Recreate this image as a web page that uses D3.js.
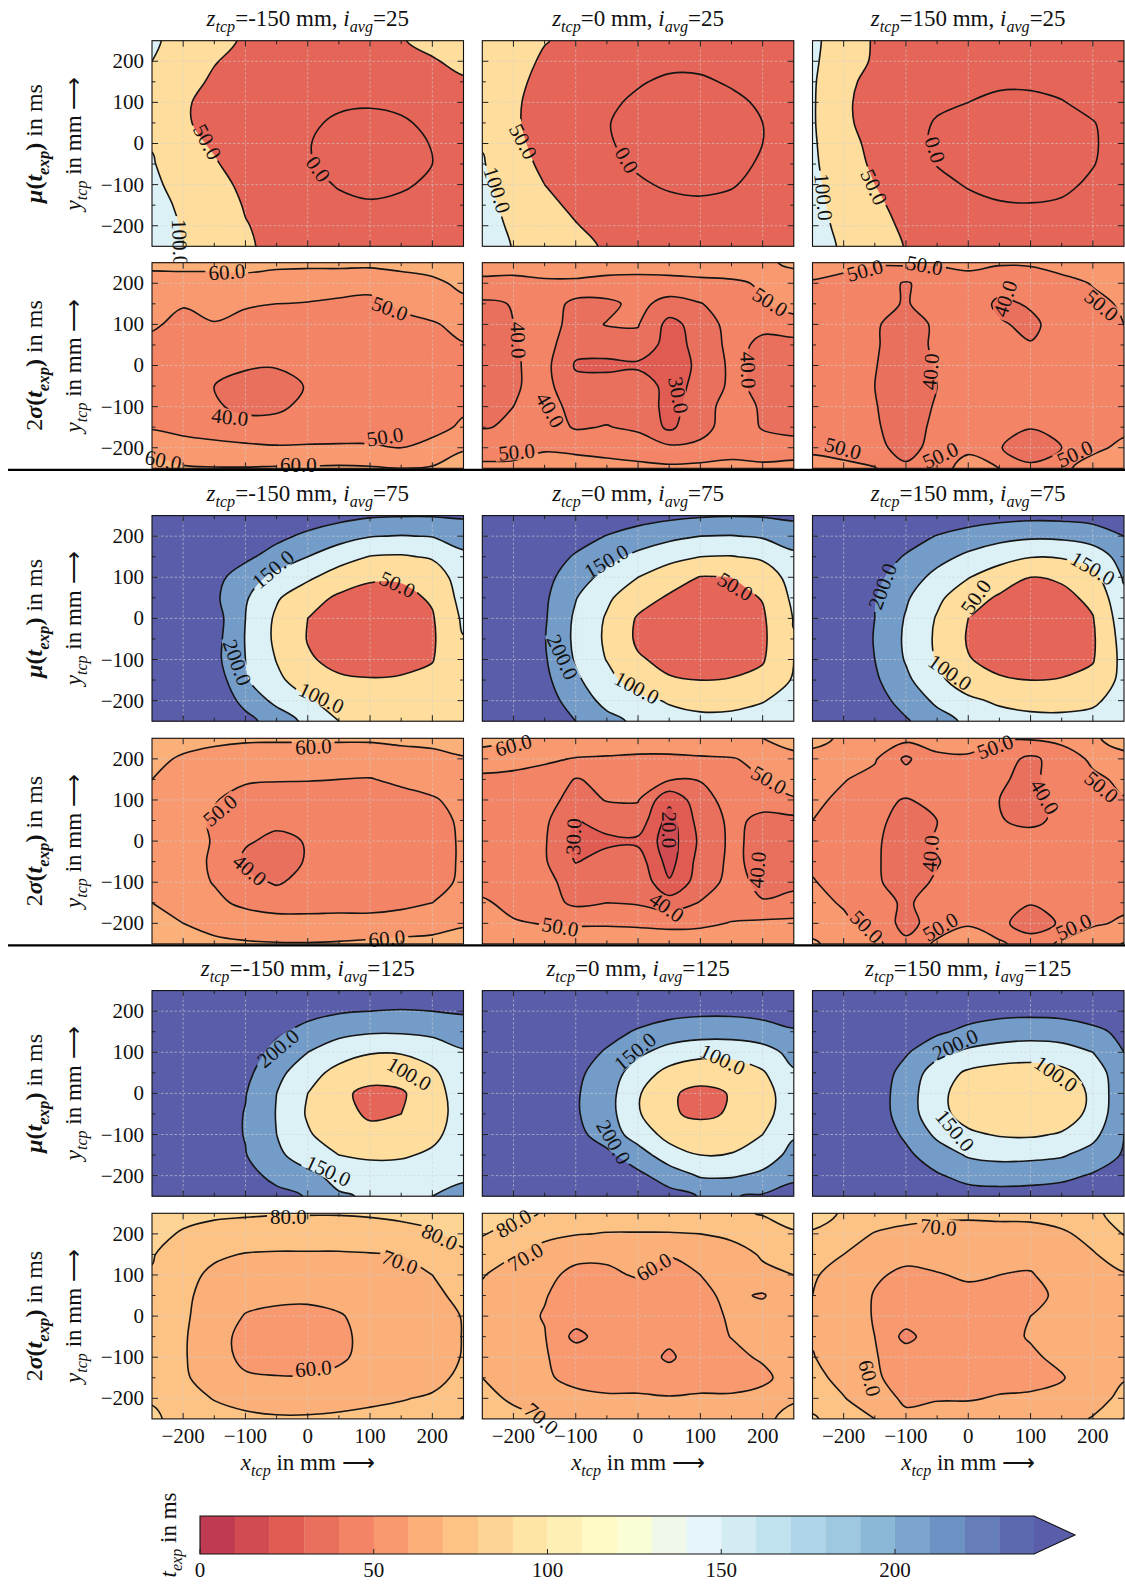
<!DOCTYPE html>
<html><head><meta charset="utf-8">
<script src="https://cdn.jsdelivr.net/npm/d3@7"></script>
<style>
body{margin:0;background:#fff}
svg{display:block}
text{font-family:"Liberation Serif","Times New Roman",serif;fill:#111}
</style>
</head><body>
<svg id="c" width="1125" height="1585"></svg>
<script>
// ---------------- DATA ----------------
const xGrid = [-250,-200,-150,-100,-50,0,50,100,150,200,250];
const yGrid = [250,200,150,100,50,0,-50,-100,-150,-200,-250];
const zLabels = ["-150","0","150"];
const iavgValues = [25,75,125];
const muLevels = [-50,0,50,100,150,200];
const sigmaLevels = [10,20,30,40,50,60,70,80,90];
const tickValues = [-200,-100,0,100,200];
const cbTicks = [0,50,100,150,200];
const cbLevels = [0,10,20,30,40,50,60,70,80,90,100,110,120,130,140,150,160,170,180,190,200,210,220,230,240];

// mu(t_exp), i_avg = 25
const mu_25_m150 = [
[106,86,66,44,36,32,33,37,48,60,68],
[100,78,52,38,28,22,21,24,33,47,59],
[94,64,44,30,20,13,11,13,20,32,46],
[88,54,40,26,15,7,3,2,5,14,28],
[90,54,40,24,12,3,-3,-5,-3,5,18],
[97,60,46,28,12,1,-7,-10,-7,1,13],
[104,70,53,36,17,2,-7,-10,-8,0,12],
[110,82,62,42,24,8,-2,-5,-3,4,15],
[114,93,72,47,30,15,6,2,5,10,20],
[120,97,80,52,38,25,16,12,14,18,26],
[122,99.5,84,55,40,32,25,20,22,26,32]];
const mu_25_0 = [
[95,72,52,40,30,24,22,24,30,38,45],
[93,66,44,30,18,10,6,7,12,20,30],
[92,60,38,22,10,2,-4,-4,3,10,20],
[92,56,34,18,4,-4,-9,-10,-6,4,14],
[93,56,32,16,1,-7,-12,-13,-10,0,10],
[97,60,36,18,2,-6,-12,-13,-10,0,10],
[104,66,42,24,6,-3,-9,-10,-7,3,14],
[110,74,50,32,14,3,-3,-5,-2,8,20],
[116,84,60,42,25,13,6,4,7,15,26],
[120,92,70,52,36,24,16,13,16,22,32],
[124,98,78,60,46,34,26,22,24,30,38]];
const mu_25_150 = [
[108,80,45,34,28,24,22,23,28,36,44],
[107,74,44,30,20,14,11,11,14,21,30],
[106,58,40,24,12,6,3,3,6,13,22],
[105,55,38,20,6,0,-4,-4,-1,6,16],
[105,56,38,14,-3,-10,-14,-15,-11,-1,10],
[106,66,38,12,-5,-12,-16,-17,-13,-2,9],
[108,70,43,18,-1,-9,-14,-15,-11,-1,11],
[111,76,50,26,7,-2,-7,-8,-5,4,16],
[114,82,58,36,18,7,2,1,3,11,22],
[117,88,62,44,30,18,12,10,13,20,30],
[120,94,72,48,38,28,22,20,22,28,36]];
// 2 sigma(t_exp), i_avg = 25
const sig_25_m150 = [
[62,63,63,63,62,62,62,62,63,64,66],
[57,56,56,57,56,55,55,54,56,58,62],
[55,50.5,53,51,50,49.5,48,47,52,55,58],
[51,48,49.5,47,46,46,45,45,47,49,53],
[48,46,45,44,43,43,43,43,44,46,49.5],
[47,45,43,41,40.5,41,42,43,44,45,48],
[46,44,40,37,37,40.5,42,43,44,45,48],
[47,45,41,38,38.5,42,43,44,45,46,49],
[49,47,45,43,43,45,46,46,47,48,51],
[58,54,53,52,51,51,51,51,50,52,59],
[63,61,60.5,60.5,61,61,61.5,61,60,61,65]];
const sig_25_0 = [
[54,54,55,55,54,54,54,55,56,58,62],
[48,47.5,48.5,48.5,47.5,47,47.5,48,48.5,51,55],
[38,40.5,46,37,37.5,43,36,39.5,45,49.5,53],
[37,40,45,36,40.5,40.5,27,34,44,42,47],
[36,39,44,33,34,37,26,33,43,38,36],
[36,39,43,29,28,28,25,32,42,38,35],
[36,39,43,33,34,37,26,33,42,38,35],
[37,40,44,37,36,38,26,36,44,39,36],
[39.5,41,45,39,40.5,38,28,37,44,39.5,37],
[46,45,49,48,47,46,42,42,46,43,44],
[52,53,54,54,53,52,52,53,53,53,54]];
const sig_25_150 = [
[55,53,51,52,51,52,51,52,54,56,58],
[49,47,45,39,45,47,44,41,47,50.5,53],
[47,45,42,39.5,43,46,38,41,45,48,51],
[46,44,41,36,41.5,45,41,38,44,47,50],
[46,44,41,35,42,45,43,40.5,44,47,49],
[46,44,40.5,34,41,44,45,45,46,47,49],
[46,44,40,33,40,44,45,45,46,47,49],
[46,44,40.5,35,41,44,45,44,45,47,49],
[47,45,41,36,42,45,43,40.5,43,47,49],
[49,47,43,36,44,49.5,40.5,35,40,49,51],
[52,52,50.5,42,49,51,50,42,49,52,54]];
// mu(t_exp), i_avg = 75
const mu_75_m150 = [
[280,270,262,252,240,228,216,206,203,203,206],
[275,262,250,232,212,190,170,152,148,152,170],
[270,255,238,210,180,150,120,98,95,105,140],
[266,250,215,175,135,108,78,55,55,72,125],
[264,246,210,155,105,70,42,36,38,55,118],
[262,245,222,150,92,50,36,32,34,46,108],
[260,243,218,148,90,48,34,30,32,44,98],
[258,242,215,150,98,55,38,36,38,48,90],
[255,240,230,155,110,75,56,52,54,60,85],
[250,238,225,190,135,105,80,68,68,74,85],
[245,235,225,210,185,135,100,80,74,78,88]];
const mu_75_0 = [
[280,268,258,246,234,222,212,205,202,204,210],
[274,258,240,220,198,178,162,150,148,155,172],
[268,250,225,195,165,138,115,100,98,108,140],
[264,242,215,172,135,100,72,48,50,70,120],
[260,236,208,152,108,70,44,34,36,52,110],
[258,232,205,142,95,45,36,30,32,44,102],
[256,230,202,140,92,42,33,28,30,42,98],
[254,230,205,145,98,55,38,34,36,46,100],
[252,235,212,158,118,72,54,50,52,62,105],
[250,238,222,178,135,115,95,88,90,98,115],
[250,240,232,200,165,140,120,110,110,118,128]];
const mu_75_150 = [
[285,272,260,248,236,226,218,214,215,220,230],
[280,262,242,220,198,180,166,158,160,172,200],
[275,252,225,196,166,140,118,102,104,122,170],
[270,244,212,174,136,102,74,50,56,84,155],
[266,238,202,156,110,70,44,34,38,60,140],
[264,234,200,146,96,50,35,30,33,48,128],
[262,232,198,142,92,46,32,28,31,44,120],
[260,232,200,146,96,52,38,33,36,47,115],
[258,236,208,160,112,72,54,50,52,62,115],
[256,240,220,182,140,110,92,84,84,92,120],
[254,244,230,205,170,140,122,114,112,115,128]];
// 2 sigma(t_exp), i_avg = 75
const sig_75_m150 = [
[64,63,62,61,61,61,61,61,62,62.5,63],
[62,59,57,56.5,56,56,56,56,56.5,57.5,59.5],
[60,56,53,51,50.5,50.5,50,49.5,52,54,56],
[58,54,50.5,47,46,45,45,45,46.5,49,53],
[57,53,49,45,42,42,43,44,45,47,51.5],
[57,53,49.5,41,38,40.5,43,44,45,47,51],
[57,53,49,38,35,41,43,44,45,47,51],
[58,54,49.5,43,39,43,44,45,46,48,51],
[60,56,52,48,45.5,46,47,47,48,50,52],
[63,60,57,55,54,53.5,53,53,54,55.5,59],
[66,64,62,61,60.5,60.5,61,62,63,63.5,64]];
const sig_75_0 = [
[63,61,59,57,56,55,55,56,57.5,60,63],
[56,54,51.5,49.5,49,48.5,48.5,49,49.5,52,58],
[47.5,47,46,39.5,42,46,41,40.5,45,50,55],
[46,45,44,36,40.5,40.5,22,36,44,43,49],
[45,44,42,29.5,34,36,16,34,42,38,37],
[45,44,41,27,28,28,15,32,42,37,36],
[45,44,41,29.5,34,35,16,34,42,37,36],
[46,45,42,37,38,38,21,35,43,38,37],
[51.5,47,44,38,40,39,35,40.5,45,40.5,44],
[56,51,49.5,49,49,48.5,47.5,48,50.5,52,52],
[60,58,57,56,56,56,56,56.5,57,58,60]];
const sig_75_150 = [
[62,59,56,53,52,51.5,51,51,53,59,63],
[58,54,51,38,49,49.5,44,38,44,52,58],
[55,50.5,47,45,46,47,41,38,44,48,52],
[52,48,42,39.5,42,46,40,37,42,46,49.5],
[50,47,42,37,40,45,40.5,38,42,46,48],
[48,46,41.5,35,41,44,45,44,45,46,47],
[48.5,46,41,36,39.5,44,45,45,45.5,46,47],
[50.5,47,41,37,41,45,45,45,45,46,47.5],
[53,49,42.5,39,43,46,43,40.5,43,47,48.5],
[57,52,46,37,44,49.5,42,36,41,49,51],
[61,57,53,42,52,53,52,44,52,55,60.5]];
// mu(t_exp), i_avg = 125
const mu_125_m150 = [
[300,290,280,268,255,245,235,228,222,220,222],
[295,282,268,255,232,215,205,200,198,200,205],
[290,275,255,240,208,185,165,155,155,162,175],
[285,268,245,225,185,150,120,103,103,118,145],
[282,262,235,212,165,118,85,70,72,92,130],
[280,258,228,202,150,100,60,38,44,80,125],
[278,255,224,198,148,95,64,44,50,78,122],
[275,252,222,198,150,105,75,62,65,88,125],
[272,250,222,202,160,125,100,92,94,108,132],
[270,250,232,212,190,162,135,125,125,132,145],
[268,250,235,220,210,198,155,145,145,150,160]];
const mu_125_0 = [
[300,290,280,268,256,245,238,232,230,232,238],
[296,284,270,254,238,224,214,210,210,215,225],
[292,276,258,238,216,195,180,172,172,180,195],
[288,270,248,222,195,160,130,115,115,130,165],
[285,265,240,210,178,125,85,68,70,95,145],
[284,262,236,205,170,105,55,40,52,80,130],
[283,262,236,205,170,105,55,42,54,82,132],
[283,264,240,212,180,125,85,72,75,100,145],
[284,268,246,222,210,175,120,100,103,125,165],
[286,272,254,238,228,210,180,145,145,160,190],
[288,276,262,250,240,230,215,198,198,205,220]];
const mu_125_150 = [
[300,290,280,270,260,252,246,244,245,250,258],
[295,282,268,252,236,222,214,212,214,222,235],
[290,274,255,232,208,188,176,172,176,190,210],
[286,266,240,205,165,140,128,122,128,150,200],
[282,260,230,182,125,92,80,78,88,118,190],
[280,256,225,175,112,80,68,62,72,108,190],
[280,256,226,176,115,82,70,66,76,112,192],
[280,258,230,192,140,108,96,94,104,135,200],
[282,262,240,210,175,145,136,138,145,170,205],
[284,268,250,228,205,185,180,182,188,205,230],
[286,274,260,245,230,220,218,220,225,235,250]];
// 2 sigma(t_exp), i_avg = 125
const sig_125_m150 = [
[82,81.5,81,81,80.5,80.5,80.5,81,82,83,84],
[81.5,79.5,78,76,75.5,75.5,75.5,76,77,79,82],
[80.5,76,71.5,69.5,69,69,69,69.5,70,73,79],
[79.5,73,68,66,65,65,65,65.5,67,70,76],
[78,72,66,63,62,61.5,62,63,64.5,67.5,73],
[78,71.5,65,59.5,58,58,59.5,62,63.5,66,70.5],
[78,71,64,57,55.5,56,58.5,62,63.5,66,70.3],
[78,71,63.5,58,56,56.5,59,62,63.5,66,70.5],
[78.5,71.5,65,61,60.5,60.5,61.5,63.5,65,67.5,72],
[79.5,74,69.5,67,66,66,67,68.5,69.5,71,76],
[81,78,74,72,71,71,71.5,72,73,75,80.5]];
const sig_125_0 = [
[84,82,79.5,77,76,75.5,76,77,78.5,80.5,82],
[80.5,77,72.5,70.5,69.5,69.5,69.5,70,72,76,79.5],
[76,70.5,66,62,61,63,60.5,63,66,71,75],
[70.5,66,62,58,59,60.5,57,60,64,68,70],
[68,64,60.5,56,56,57,56,58,62,59,68.5],
[67,63,59.5,55,55,56,55,57,61,65,68],
[67,63,60.5,47,55,56,53,57,60.2,64,68],
[67,63,60.5,57,56,56,48,57,58,61,66],
[70,64.5,61,58,57,57,56,57,57,58,64],
[73,68.5,65,62,61,61,60.5,61,61,63,69],
[76,73,70.5,68,67,66.5,66,66.5,67,68,73]];
const sig_125_150 = [
[82,79.5,75,72,71,70.5,71,71.5,73,79,82],
[79.5,74,69.5,68.5,68.5,69,68.5,68,69,72,80.5],
[75,70,65,62,63,65,64,62,65,69.5,73],
[71,66.5,61,58.5,59.5,61,60,59.5,63,67,69.5],
[70,65,59.5,56,57,58,57.5,58,61.5,65,68],
[69,64,59.5,55,56,57,58,60,63,66,68],
[69,64,60,47,56,57,58,60.5,63,66,68],
[70.5,65,60.5,56,56,57,58,59,61.5,66,69],
[73,67,61,57,57.5,58,58,58,59.5,64,69.5],
[77,70.5,64,58.5,59.5,59.5,60.5,61,62,67,72],
[81,76,70,62,63,63.5,64,65,67,70.5,80.5]];

// contour labels: [x, y, angle, text]
const lab_mu_25_m150 = [[-161,4,62,"50.0"],[17,-62,55,"0.0"],[-205,-241,88,"100.0"]];
const lab_mu_25_0 = [[-184,5,62,"50.0"],[-18,-40,60,"0.0"],[-226,-113,72,"100.0"]];
const lab_mu_25_150 = [[-53,-15,72,"0.0"],[-151,-106,65,"50.0"],[-232,-130,85,"100.0"]];
const lab_sig_25_m150 = [[-130,228,-4,"60.0"],[132,139,20,"50.0"],[-125,-125,6,"40.0"],[124,-173,-8,"50.0"],[-232,-230,12,"60.0"],[-15,-242,0,"60.0"]];
const lab_sig_25_0 = [[212,155,32,"50.0"],[-192,62,88,"40.0"],[-141,-108,60,"40.0"],[65,-72,80,"30.0"],[177,-11,88,"40.0"],[-195,-210,-5,"50.0"]];
const lab_sig_25_150 = [[-166,232,-15,"50.0"],[-70,244,10,"50.0"],[214,147,40,"50.0"],[59,163,-72,"40.0"],[-61,-15,-85,"40.0"],[-201,-201,15,"50.0"],[-45,-218,-25,"50.0"],[171,-214,-25,"50.0"]];
const lab_mu_75_m150 = [[144,83,25,"50.0"],[-56,120,-40,"150.0"],[-113,-107,70,"200.0"],[22,-193,25,"100.0"]];
const lab_mu_75_0 = [[-51,139,-30,"150.0"],[156,78,30,"50.0"],[-121,-94,65,"200.0"],[-2,-168,28,"100.0"]];
const lab_mu_75_150 = [[-138,78,-70,"200.0"],[12,53,-55,"50.0"],[200,122,30,"150.0"],[-29,-131,35,"100.0"]];
const lab_sig_75_m150 = [[9,230,-3,"60.0"],[-141,75,-40,"50.0"],[-93,-70,40,"40.0"],[127,-236,-5,"60.0"]];
const lab_sig_75_0 = [[-200,234,-15,"60.0"],[210,149,30,"50.0"],[-104,11,-88,"30.0"],[51,27,90,"20.0"],[46,-160,35,"40.0"],[191,-70,-85,"40.0"],[-125,-208,10,"50.0"]];
const lab_sig_75_150 = [[43,230,-20,"50.0"],[214,132,40,"50.0"],[123,108,60,"40.0"],[-61,-30,-85,"40.0"],[-163,-208,45,"50.0"],[-45,-208,-30,"50.0"],[169,-208,-25,"50.0"]];
const lab_mu_125_m150 = [[-48,110,-40,"200.0"],[163,48,30,"100.0"],[33,-188,25,"150.0"]];
const lab_mu_125_0 = [[-5,102,-40,"150.0"],[136,83,25,"100.0"],[-39,-118,60,"200.0"]];
const lab_mu_125_150 = [[-21,119,-25,"200.0"],[141,48,35,"100.0"],[-21,-90,50,"150.0"]];
const lab_sig_125_m150 = [[-31,242,0,"80.0"],[212,193,25,"80.0"],[148,132,20,"70.0"],[9,-127,-5,"60.0"]];
const lab_sig_125_0 = [[-200,226,-30,"80.0"],[-181,144,-30,"70.0"],[25,120,-30,"60.0"],[-155,-249,40,"70.0"]];
const lab_sig_125_150 = [[-48,217,5,"70.0"],[-158,-151,75,"60.0"]];

// ---------------- LAYOUT / STYLE ----------------
const W = 311.5, H = 205.6;
const lefts = [152, 482.3, 812.5];
const tops = [40.7, 262.7, 515.6, 738.3, 990.6, 1213.3];
const FS_TICK = 21, FS_LAB = 21, FS_TITLE = 23, FS_AX = 23, FS_Y = 24;

const rdylbu = ["#a50026","#d73027","#f46d43","#fdae61","#fee090","#ffffbf","#e0f3f8","#abd9e9","#74add1","#4575b4","#313695"];
const cmapScale = d3.scaleLinear().domain(d3.range(11).map(i => i/10)).range(rdylbu).interpolate(d3.interpolateRgb).clamp(true);
function cmap(p) { const c = d3.rgb(cmapScale(p)); return d3.rgb(c.r*0.8+51, c.g*0.8+51, c.b*0.8+51).formatHex(); }
const cbColor = k => cmap((k + 0.5) / 24);
const muColor = t => cmap(Math.min(1, 0.125 + 0.25 * Math.max(0, t) / 50));
const sigColor = t => cbColor(Math.max(0, t) / 10);

const rows = [
  {kind:"mu", data:[mu_25_m150, mu_25_0, mu_25_150], labs:[lab_mu_25_m150, lab_mu_25_0, lab_mu_25_150], iavg:iavgValues[0]},
  {kind:"sig", data:[sig_25_m150, sig_25_0, sig_25_150], labs:[lab_sig_25_m150, lab_sig_25_0, lab_sig_25_150]},
  {kind:"mu", data:[mu_75_m150, mu_75_0, mu_75_150], labs:[lab_mu_75_m150, lab_mu_75_0, lab_mu_75_150], iavg:iavgValues[1]},
  {kind:"sig", data:[sig_75_m150, sig_75_0, sig_75_150], labs:[lab_sig_75_m150, lab_sig_75_0, lab_sig_75_150]},
  {kind:"mu", data:[mu_125_m150, mu_125_0, mu_125_150], labs:[lab_mu_125_m150, lab_mu_125_0, lab_mu_125_150], iavg:iavgValues[2]},
  {kind:"sig", data:[sig_125_m150, sig_125_0, sig_125_150], labs:[lab_sig_125_m150, lab_sig_125_0, lab_sig_125_150]}
];

const svg = d3.select("#c");
const defs = svg.append("defs");

function rich(sel, parts, size) {
  let shifted = false;
  parts.forEach(p => {
    const ts = sel.append("tspan").text(p.t);
    if (p.i) ts.attr("font-style", "italic");
    if (p.b) ts.attr("font-weight", "bold");
    if (p.sub) {
      ts.attr("font-size", size * 0.7);
      if (!shifted) { ts.attr("dy", size * 0.28); shifted = true; }
    } else if (shifted) { ts.attr("dy", -size * 0.28); shifted = false; }
  });
}

const xs = d3.scaleLinear().domain([-250, 250]).range([0, W]);
const ys = d3.scaleLinear().domain([-250, 250]).range([H, 0]);

function drawPanel(r, c) {
  const row = rows[r];
  const grid = row.data[c];
  const labs = row.labs[c];
  const isMu = row.kind === "mu";
  const levels = isMu ? muLevels : sigmaLevels;
  const colorFor = isMu ? muColor : sigColor;
  const nx = xGrid.length, ny = yGrid.length;
  const g = svg.append("g").attr("transform", `translate(${lefts[c]},${tops[r]})`);
  const id = `p${r}${c}`;
  defs.append("clipPath").attr("id", "clip" + id).append("rect").attr("width", W).attr("height", H);

  // grid with its edge values repeated once, so band outlines close outside the frame
  const P = [];
  for (let j = -1; j <= ny; j++) for (let i = -1; i <= nx; i++) {
    const jj = Math.max(0, Math.min(ny - 1, j)), ii = Math.max(0, Math.min(nx - 1, i));
    P.push(grid[jj][ii]);
  }
  const step = xGrid[1] - xGrid[0];
  const cx = v => xs(xGrid[0] + step * (v - 1.5));
  const cy = v => ys(yGrid[0] - step * (v - 1.5));
  const line = d3.line().x(p => cx(p[0])).y(p => cy(p[1])).curve(d3.curveCatmullRomClosed.alpha(0.5));
  const contours = d3.contours().size([nx + 2, ny + 2]).thresholds(levels)(P);
  const pathOf = mp => mp.coordinates.map(poly => poly.map(ring => line(ring.slice(0, -1))).join("")).join("");

  const inner = g.append("g").attr("clip-path", `url(#clip${id})`);
  inner.append("rect").attr("width", W).attr("height", H).attr("fill", colorFor(levels[0] - 10));
  contours.forEach(mp => {
    if (!mp.coordinates.length) return;
    inner.append("path").attr("d", pathOf(mp)).attr("fill", colorFor(mp.value)).attr("fill-rule", "evenodd");
  });
  const gridG = inner.append("g");
  tickValues.forEach(v => {
    gridG.append("line").attr("x1", xs(v)).attr("x2", xs(v)).attr("y1", 0).attr("y2", H);
    gridG.append("line").attr("y1", ys(v)).attr("y2", ys(v)).attr("x1", 0).attr("x2", W);
  });
  gridG.selectAll("line").attr("stroke", "#d0d0d0").attr("stroke-opacity", 0.65).attr("stroke-width", 0.9).attr("stroke-dasharray", "2.5,2");

  const labG = g.append("g");
  const mask = defs.append("mask").attr("id", "mask" + id).attr("maskUnits", "userSpaceOnUse")
    .attr("x", -60).attr("y", -60).attr("width", W + 120).attr("height", H + 120);
  mask.append("rect").attr("x", -60).attr("y", -60).attr("width", W + 120).attr("height", H + 120).attr("fill", "#fff");
  labs.forEach(([lx, ly, ang, txt]) => {
    const t = labG.append("text")
      .attr("transform", `translate(${xs(lx)},${ys(ly)}) rotate(${ang})`)
      .attr("text-anchor", "middle").attr("dy", "0.35em")
      .attr("font-size", FS_LAB).text(txt);
    const len = t.node().getComputedTextLength();
    mask.append("rect").attr("transform", `translate(${xs(lx)},${ys(ly)}) rotate(${ang})`)
      .attr("x", -len / 2 - 3).attr("y", -8).attr("width", len + 6).attr("height", 16).attr("fill", "#000");
  });

  const lines = inner.append("g").attr("mask", `url(#mask${id})`);
  contours.forEach(mp => {
    if (!mp.coordinates.length || (isMu && mp.value === muLevels[0])) return;
    lines.append("path").attr("d", pathOf(mp)).attr("fill", "none").attr("stroke", "#151515").attr("stroke-width", 1.6);
  });
  labG.raise();

  const tk = g.append("g").attr("stroke", "#222").attr("stroke-width", 1);
  const minor = [-150, -50, 50, 150];
  const addTicks = (vals, len) => vals.forEach(v => {
    tk.append("line").attr("x1", xs(v)).attr("x2", xs(v)).attr("y1", H).attr("y2", H - len);
    tk.append("line").attr("x1", xs(v)).attr("x2", xs(v)).attr("y1", 0).attr("y2", len);
    tk.append("line").attr("y1", ys(v)).attr("y2", ys(v)).attr("x1", 0).attr("x2", len);
    tk.append("line").attr("y1", ys(v)).attr("y2", ys(v)).attr("x1", W).attr("x2", W - len);
  });
  addTicks(tickValues, 6);
  addTicks(minor, 3.5);
  g.append("rect").attr("width", W).attr("height", H).attr("fill", "none").attr("stroke", "#111").attr("stroke-width", 1.1);

  if (c === 0) {
    tickValues.forEach(v => {
      g.append("text").attr("x", -8).attr("y", ys(v) + 7).attr("text-anchor", "end").attr("font-size", FS_TICK)
        .text(v < 0 ? "\u2212" + Math.abs(v) : String(v));
    });
  }
  if (r === rows.length - 1) {
    tickValues.forEach(v => {
      g.append("text").attr("x", xs(v)).attr("y", H + 24).attr("text-anchor", "middle").attr("font-size", FS_TICK)
        .text(v < 0 ? "\u2212" + Math.abs(v) : String(v));
    });
    const xl = g.append("text").attr("x", W / 2).attr("y", H + 51).attr("text-anchor", "middle").attr("font-size", FS_AX);
    rich(xl, [{t:"x", i:true}, {t:"tcp", i:true, sub:true}, {t:" in mm \u27F6"}], FS_AX);
  }
  if (isMu) {
    const tt = g.append("text").attr("x", W / 2).attr("y", -15).attr("text-anchor", "middle").attr("font-size", FS_TITLE);
    rich(tt, [{t:"z", i:true}, {t:"tcp", i:true, sub:true}, {t:"=" + zLabels[c] + " mm, "}, {t:"i", i:true}, {t:"avg", i:true, sub:true}, {t:"=" + row.iavg}], FS_TITLE);
  }
}

for (let r = 0; r < rows.length; r++) for (let c = 0; c < 3; c++) drawPanel(r, c);

rows.forEach((row, r) => {
  const yc = tops[r] + H / 2;
  const t1 = svg.append("text").attr("transform", `translate(42,${yc}) rotate(-90)`).attr("text-anchor", "middle").attr("font-size", FS_Y);
  if (row.kind === "mu") {
    rich(t1, [{t:"\u03BC", b:true, i:true}, {t:"(", b:true}, {t:"t", b:true, i:true}, {t:"exp", b:true, i:true, sub:true}, {t:")", b:true}, {t:" in ms"}], FS_Y);
  } else {
    rich(t1, [{t:"2"}, {t:"\u03C3", b:true, i:true}, {t:"(", b:true}, {t:"t", b:true, i:true}, {t:"exp", b:true, i:true, sub:true}, {t:")", b:true}, {t:" in ms"}], FS_Y);
  }
  const t2 = svg.append("text").attr("transform", `translate(81,${yc}) rotate(-90)`).attr("text-anchor", "middle").attr("font-size", FS_AX);
  rich(t2, [{t:"y", i:true}, {t:"tcp", i:true, sub:true}, {t:" in mm \u27F6"}], FS_AX);
});

[1, 3].forEach(r => {
  svg.append("line").attr("x1", 8).attr("x2", 1125).attr("y1", tops[r] + H + 1.5).attr("y2", tops[r] + H + 1.5)
    .attr("stroke", "#000").attr("stroke-width", 2.2);
});

// colorbar
const cb0 = 200, cb1 = 1034, cbT = 1516, cbB = 1554;
const cbx = d3.scaleLinear().domain([0, 240]).range([cb0, cb1]);
const cbg = svg.append("g");
cbLevels.slice(0, -1).forEach((v, k) => {
  cbg.append("rect").attr("x", cbx(v)).attr("y", cbT).attr("width", cbx(v + 10) - cbx(v) + 0.3).attr("height", cbB - cbT).attr("fill", cbColor(k));
});
const tipX = 1075;
cbg.append("path").attr("d", `M${cb1},${cbT}L${tipX},${(cbT + cbB) / 2}L${cb1},${cbB}Z`).attr("fill", cmap(1));
cbg.append("path").attr("d", `M${cb0},${cbT}L${cb1},${cbT}L${tipX},${(cbT + cbB) / 2}L${cb1},${cbB}L${cb0},${cbB}Z`)
  .attr("fill", "none").attr("stroke", "#111").attr("stroke-width", 1.1);
cbTicks.forEach(v => {
  cbg.append("line").attr("x1", cbx(v)).attr("x2", cbx(v)).attr("y1", cbB).attr("y2", cbB - 5).attr("stroke", "#222");
  cbg.append("text").attr("x", cbx(v)).attr("y", cbB + 23).attr("text-anchor", "middle").attr("font-size", FS_TICK).text(String(v));
});
const cbl = svg.append("text").attr("transform", `translate(176,${(cbT + cbB) / 2}) rotate(-90)`).attr("text-anchor", "middle").attr("font-size", FS_AX);
rich(cbl, [{t:"t", i:true}, {t:"exp", i:true, sub:true}, {t:" in ms"}], FS_AX);
</script>
</body></html>
